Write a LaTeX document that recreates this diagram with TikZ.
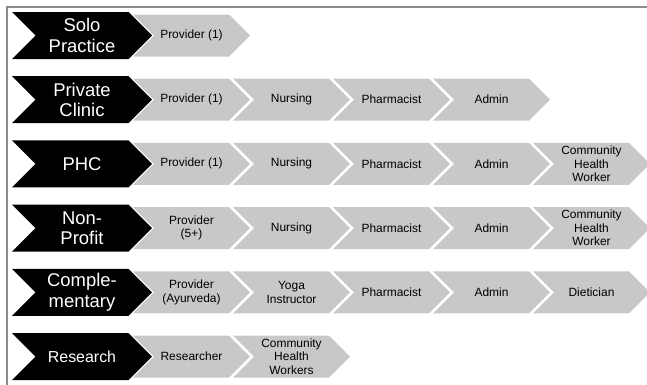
\documentclass[tikz,border=0pt]{standalone}
\usepackage{fontspec}
\setmainfont{Liberation Sans}
\usetikzlibrary{shapes.symbols}
\definecolor{chevgrey}{RGB}{200,200,200}
\definecolor{framegrey}{RGB}{140,140,140}
\tikzstyle{setting} = [signal, signal to=east, signal from=west, minimum width=140bp, minimum height=47bp, inner sep=0pt, align=center, fill=black, text=white, font=\fontsize{18.5}{20.5}\selectfont]
\tikzstyle{role} = [signal, signal to=east, signal from=west, minimum width=117bp, minimum height=42bp, inner sep=0pt, align=center, fill=chevgrey, text=black, font=\fontsize{12}{13.5}\selectfont]
\begin{document}
\begin{tikzpicture}[node distance = 100bp]
\useasboundingbox (0,0) rectangle (647bp,-385bp);
\draw [framegrey, line width = 2bp] (7bp,-385bp) -- (7bp,-7bp) -- (647bp,-7bp);
\node (solo) [setting] at (82bp,-35.5bp) {Solo\\Practice};
\node (pvt) [setting, below of = solo, yshift = 35.8bp] {Private\\Clinic};
\node (phc) [setting, below of = pvt, yshift = 35.8bp] {PHC};
\node (nonprofit) [setting, below of = phc, yshift = 35.8bp] {Non-\\Profit};
\node (comp) [setting, below of = nonprofit, yshift = 35.8bp] {Comple-\\mentary};
\node (research) [setting, below of = comp, yshift = 35.8bp, font = \fontsize{16}{18}\selectfont] {Research};
% solo practice
\node (solo1) [role, right of = solo, xshift = 9.5bp] {Provider (1)};
% private clinic
\node (pvt1) [role, right of = pvt, xshift = 9.5bp] {Provider (1)};
\node (pvt2) [role, right of = pvt1] {Nursing};
\node (pvt3) [role, right of = pvt2] {Pharmacist};
\node (pvt4) [role, right of = pvt3] {Admin};
% phc
\node (phc1) [role, right of = phc, xshift = 9.5bp] {Provider (1)};
\node (phc2) [role, right of = phc1] {Nursing};
\node (phc3) [role, right of = phc2] {Pharmacist};
\node (phc4) [role, right of = phc3] {Admin};
\node (phc5) [role, right of = phc4] {Community\\Health\\Worker};
% non-profit
\node (nonprofit1) [role, right of = nonprofit, xshift = 9.5bp] {Provider\\(5+)};
\node (nonprofit2) [role, right of = nonprofit1] {Nursing};
\node (nonprofit3) [role, right of = nonprofit2] {Pharmacist};
\node (nonprofit4) [role, right of = nonprofit3] {Admin};
\node (nonprofit5) [role, right of = nonprofit4] {Community\\Health\\Worker};
% complementary
\node (comp1) [role, right of = comp, xshift = 9.5bp] {Provider\\(Ayurveda)};
\node (comp2) [role, right of = comp1] {Yoga\\Instructor};
\node (comp3) [role, right of = comp2] {Pharmacist};
\node (comp4) [role, right of = comp3] {Admin};
\node (comp5) [role, right of = comp4] {Dietician};
% research
\node (research1) [role, right of = research, xshift = 9.5bp] {Researcher};
\node (research2) [role, right of = research1] {Community\\Health\\Workers};
\end{tikzpicture}
\end{document}
